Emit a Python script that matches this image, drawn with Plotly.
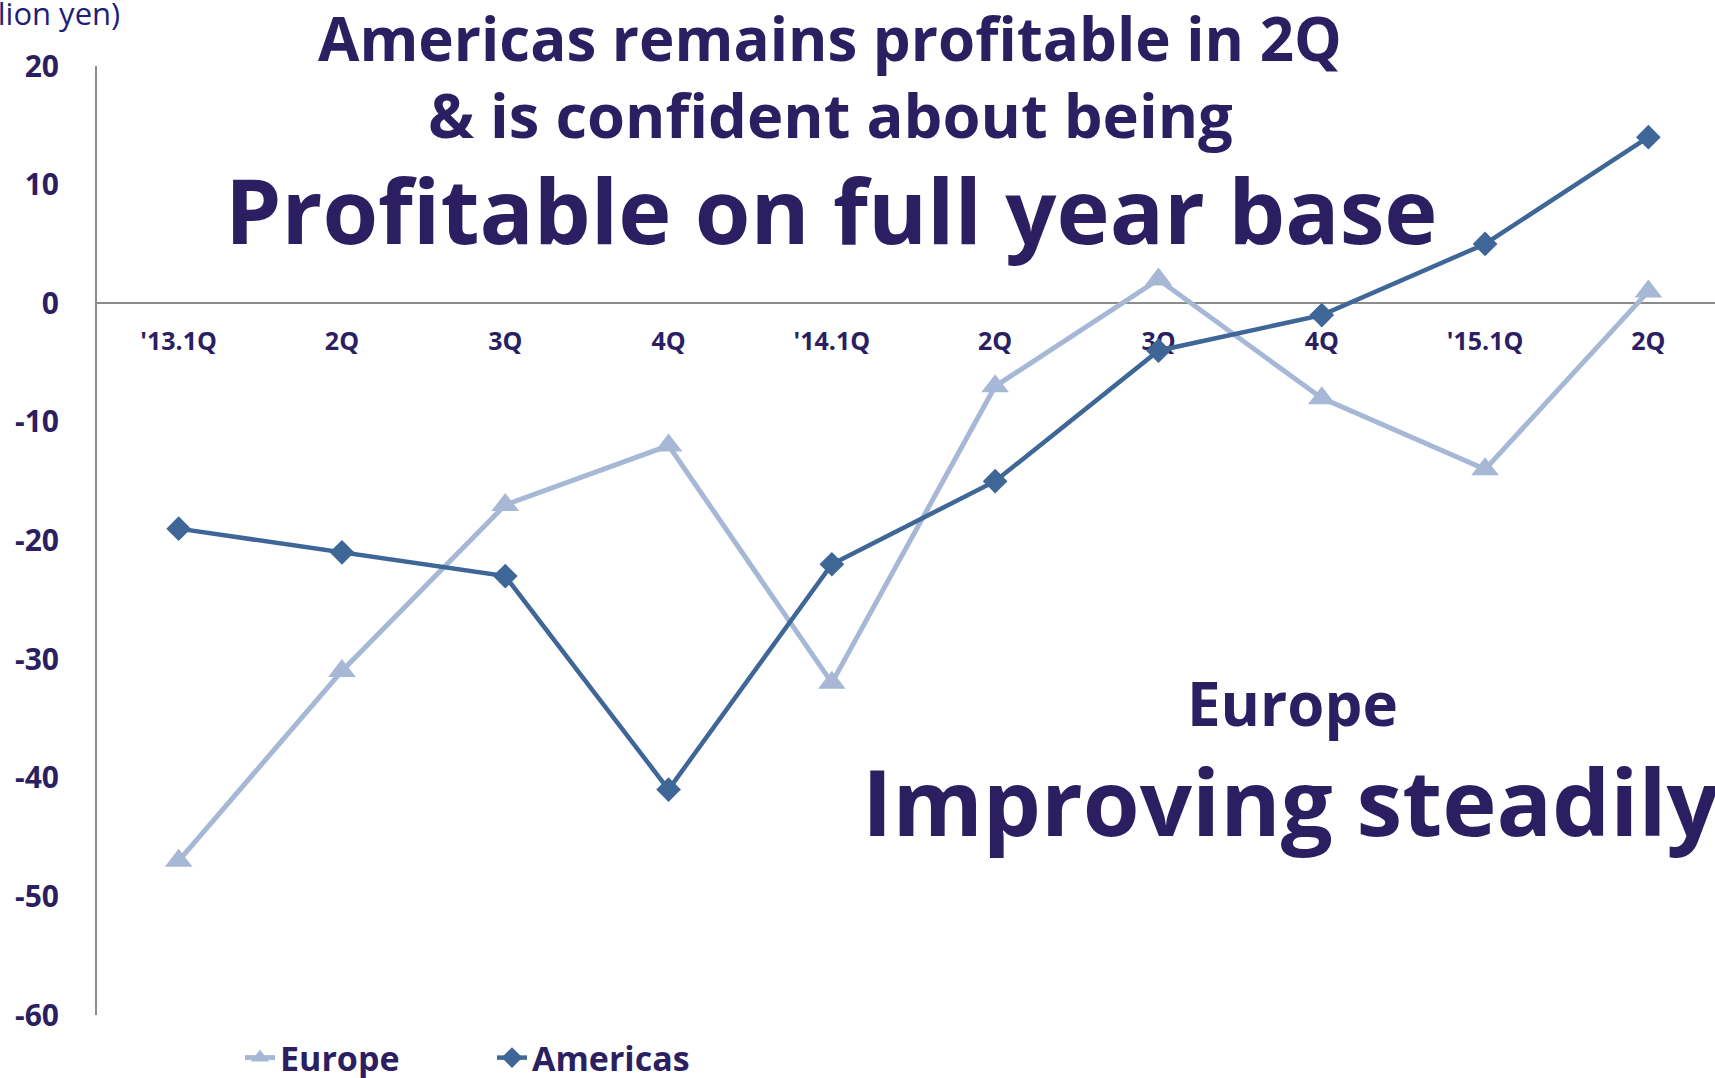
import plotly.graph_objects as go

# Quarterly operating income by region (billion yen)
quarters = ["'13.1Q", "2Q", "3Q", "4Q", "'14.1Q", "2Q", "3Q", "4Q", "'15.1Q", "2Q"]
europe = [-47, -31, -17, -12, -32, -7, 2, -8, -14, 1]
americas = [-19, -21, -23, -41, -22, -15, -4, -1, 5, 14]
y_ticks = [20, 10, 0, -10, -20, -30, -40, -50, -60]
y_tick_text = ["20", "10", "0", "-10", "-20", "-30", "-40", "-50", "-60"]

NAVY = "#2B1F62"
EUROPE_COLOR = "#A6B8D6"
AMERICAS_COLOR = "#3E6798"
AXIS_GRAY = "#8C8C8C"
FONT = "Open Sans"

W, H = 1715, 1078
M_L, M_R, M_T, M_B = 97, 0, 66, 63
plot_w = W - M_L - M_R
plot_h = H - M_T - M_B


def px_x(px):
    return (px - M_L) / plot_w


def px_y(py):
    return (H - M_B - py) / plot_h


xs = list(range(len(quarters)))

fig = go.Figure()
fig.add_trace(go.Scatter(
    x=xs, y=europe, name="Europe", mode="lines+markers",
    line=dict(color=EUROPE_COLOR, width=5),
    marker=dict(symbol="triangle-up", size=24, color=EUROPE_COLOR),
))
fig.add_trace(go.Scatter(
    x=xs, y=americas, name="Americas", mode="lines+markers",
    line=dict(color=AMERICAS_COLOR, width=4.5),
    marker=dict(symbol="diamond", size=19, color=AMERICAS_COLOR),
))

fig.update_layout(
    width=W, height=H,
    margin=dict(l=M_L, r=M_R, t=M_T, b=M_B, autoexpand=False),
    paper_bgcolor="white", plot_bgcolor="white",
    font=dict(family=FONT, color=NAVY),
    showlegend=True,
    legend=dict(
        orientation="h", x=px_x(240), y=px_y(1058),
        xanchor="left", yanchor="middle",
        font=dict(family=FONT, size=34, color=NAVY, weight="bold"),
        itemwidth=30, entrywidth=207, entrywidthmode="pixels",
        bgcolor="rgba(0,0,0,0)",
    ),
    xaxis=dict(
        range=[-0.5, 9.408],
        tickmode="array", tickvals=xs, ticktext=quarters,
        anchor="free", position=0.75,
        showline=True, linecolor=AXIS_GRAY, linewidth=2,
        showgrid=False, zeroline=False, ticks="",
        ticklabelstandoff=16,
        tickfont=dict(family=FONT, size=25, color=NAVY, weight="bold"),
        layer="below traces",
    ),
    yaxis=dict(
        range=[-60, 20], tickmode="array", tickvals=y_ticks,
        ticktext=y_tick_text,
        showline=True, linecolor=AXIS_GRAY, linewidth=2,
        showgrid=False, zeroline=False, ticks="",
        ticklabelstandoff=30,
        tickfont=dict(family=FONT, size=30, color=NAVY, weight="bold"),
        layer="below traces",
    ),
)

annotations = [
    dict(text="(billion yen)", x=px_x(122), y=px_y(13), xanchor="right",
         font=dict(size=31, color="#1F1F78")),
    dict(text="Americas remains profitable in 2Q", x=px_x(830), y=px_y(38),
         font=dict(size=60, color=NAVY, weight="bold")),
    dict(text="& is confident about being", x=px_x(830), y=px_y(114),
         font=dict(size=61.5, color=NAVY, weight="bold")),
    dict(text="Profitable on full year base", x=px_x(831), y=px_y(209),
         font=dict(size=90, color=NAVY, weight="bold")),
    dict(text="Europe", x=px_x(1292), y=px_y(703),
         font=dict(size=60, color=NAVY, weight="bold")),
    dict(text="Improving steadily", x=px_x(1290), y=px_y(800),
         font=dict(size=92, color=NAVY, weight="bold")),
]
for a in annotations:
    fig.add_annotation(xref="paper", yref="paper", showarrow=False,
                       xanchor=a.pop("xanchor", "center"), yanchor="middle",
                       font_family=FONT, **a)

fig.write_html("out.html")
